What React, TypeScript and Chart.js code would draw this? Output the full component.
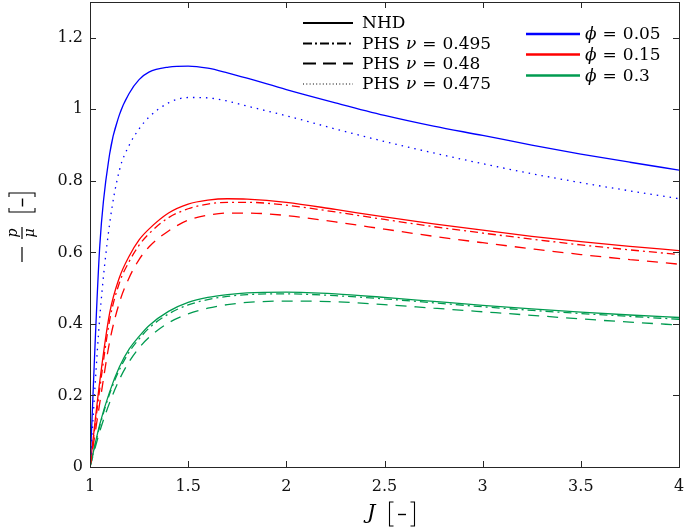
import React, { useEffect, useRef } from 'react';
import { Chart, registerables } from 'chart.js';
Chart.register(...registerables);

// Stretch J [-]
const J = [1, 1.05, 1.1, 1.15, 1.2, 1.25, 1.3, 1.4, 1.5, 1.6, 1.7, 1.8, 2, 2.25, 2.5, 2.75, 3, 3.25, 3.5, 3.75, 4];

// phi = 0.05
const nhdPhi005 = [0, 0.62, 0.875, 0.985, 1.045, 1.083, 1.104, 1.118, 1.121, 1.115, 1.102, 1.087, 1.055, 1.018, 0.983, 0.953, 0.927, 0.9, 0.875, 0.852, 0.83];
const phs0475Phi005 = [0, 0.42, 0.68, 0.83, 0.9, 0.945, 0.978, 1.018, 1.033, 1.032, 1.023, 1.009, 0.982, 0.945, 0.91, 0.878, 0.848, 0.82, 0.795, 0.772, 0.75];

// phi = 0.15
const nhdPhi015 = [0, 0.24, 0.43, 0.53, 0.59, 0.635, 0.665, 0.71, 0.735, 0.746, 0.75, 0.749, 0.74, 0.72, 0.699, 0.68, 0.662, 0.645, 0.63, 0.617, 0.605];
const phs0495Phi015 = [0, 0.22, 0.41, 0.515, 0.575, 0.62, 0.652, 0.697, 0.722, 0.735, 0.74, 0.74, 0.732, 0.713, 0.692, 0.672, 0.654, 0.637, 0.621, 0.607, 0.594];
const phs048Phi015 = [0, 0.18, 0.35, 0.46, 0.53, 0.58, 0.615, 0.66, 0.69, 0.704, 0.71, 0.71, 0.703, 0.685, 0.665, 0.645, 0.627, 0.61, 0.594, 0.58, 0.567];

// phi = 0.3
const nhdPhi03 = [0, 0.12, 0.21, 0.28, 0.33, 0.365, 0.395, 0.435, 0.46, 0.474, 0.482, 0.487, 0.489, 0.484, 0.474, 0.463, 0.452, 0.442, 0.433, 0.425, 0.418];
const phs0495Phi03 = [0, 0.115, 0.205, 0.272, 0.322, 0.358, 0.388, 0.428, 0.453, 0.468, 0.477, 0.482, 0.484, 0.479, 0.47, 0.459, 0.448, 0.438, 0.429, 0.421, 0.413];
const phs048Phi03 = [0, 0.1, 0.18, 0.245, 0.295, 0.333, 0.362, 0.403, 0.428, 0.444, 0.454, 0.46, 0.464, 0.462, 0.454, 0.444, 0.434, 0.424, 0.414, 0.405, 0.397];

const xTicks = [1, 1.5, 2, 2.5, 3, 3.5, 4];
const yTicks = [0, 0.2, 0.4, 0.6, 0.8, 1, 1.2];

const modelLabels = ['NHD', 'PHS', 'PHS', 'PHS'];
const nuLabels = ['', '0.495', '0.48', '0.475'];
const phiLabels = ['0.05', '0.15', '0.3'];

const BLUE = '#0000ff';
const RED = '#ff0000';
const GREEN = 'rgb(0,155,80)';
const AX = '#262626';
const SERIF = '"DejaVu Serif", serif';

const DASHDOT = [8, 4, 2, 4];
const DASHED = [11, 8];
const DOTTED = [1.5, 5];

function mk(label: string, ys: number[], color: string, dash: number[]) {
  return {
    label,
    data: J.map((x, i) => ({ x, y: ys[i] })),
    borderColor: color,
    backgroundColor: color,
    borderWidth: 1.3,
    borderDash: dash,
    pointRadius: 0,
    fill: false,
    cubicInterpolationMode: 'monotone' as const,
  };
}

const fmt = (v: any) => String(Number(Number(v).toFixed(2)));

const decorPlugin = {
  id: 'decor',
  afterDraw(chart: any) {
    const { ctx, chartArea: a, scales } = chart;
    ctx.save();
    ctx.strokeStyle = AX;
    ctx.lineWidth = 1;
    ctx.setLineDash([]);
    ctx.strokeRect(Math.round(a.left) + 0.5, Math.round(a.top) + 0.5, Math.round(a.right - a.left), Math.round(a.bottom - a.top));
    const line = (x1: number, y1: number, x2: number, y2: number) => {
      ctx.beginPath();
      ctx.moveTo(x1, y1);
      ctx.lineTo(x2, y2);
      ctx.stroke();
    };
    const TL = 6;
    for (const v of xTicks) {
      const px = Math.round(scales.x.getPixelForValue(v)) + 0.5;
      line(px, a.bottom, px, a.bottom - TL);
      line(px, a.top, px, a.top + TL);
    }
    for (const v of yTicks) {
      const py = Math.round(scales.y.getPixelForValue(v)) + 0.5;
      line(a.left, py, a.left + TL, py);
      line(a.right, py, a.right - TL, py);
    }

    // legend 1 (line styles)
    const lg1Styles = [[], [9, 3, 2, 3], [13, 7], [1, 2.3]];
    const lg1Widths = [2, 2, 2, 1.2];
    const rows1 = [23, 43.5, 63.5, 84];
    ctx.fillStyle = '#000';
    ctx.textBaseline = 'middle';
    ctx.textAlign = 'left';
    for (let i = 0; i < 4; i++) {
      ctx.strokeStyle = '#000';
      ctx.lineWidth = lg1Widths[i];
      ctx.setLineDash(lg1Styles[i]);
      line(303, rows1[i], 353, rows1[i]);
      ctx.setLineDash([]);
      let x = 362;
      const y = rows1[i] + 1;
      ctx.font = `17px ${SERIF}`;
      const m = modelLabels[i];
      ctx.fillText(m, x, y);
      x += ctx.measureText(m).width;
      if (nuLabels[i]) {
        x += 6;
        ctx.font = `italic 17px ${SERIF}`;
        ctx.fillText('ν', x, y);
        x += ctx.measureText('ν').width + 6;
        ctx.font = `17px ${SERIF}`;
        ctx.fillText('=', x, y);
        x += ctx.measureText('=').width + 6;
        ctx.fillText(nuLabels[i], x, y);
      }
    }
    // legend 2 (colours)
    const cols = [BLUE, RED, GREEN];
    const rows2 = [34, 54.5, 75.5];
    for (let i = 0; i < 3; i++) {
      ctx.strokeStyle = cols[i];
      ctx.lineWidth = 2.3;
      ctx.setLineDash([]);
      line(526, rows2[i], 580, rows2[i]);
      let x = 585;
      const y = rows2[i] + 1;
      ctx.font = `italic 17px ${SERIF}`;
      ctx.fillStyle = '#000';
      ctx.fillText('ϕ', x, y);
      x += ctx.measureText('ϕ').width + 6;
      ctx.font = `17px ${SERIF}`;
      ctx.fillText('=', x, y);
      x += ctx.measureText('=').width + 6;
      ctx.fillText(phiLabels[i], x, y);
    }

    const bracket = (u0: number, u1: number, h: number) => {
      ctx.strokeStyle = '#000';
      ctx.lineWidth = 1.1;
      ctx.setLineDash([]);
      ctx.beginPath();
      ctx.moveTo(u0 + 4, -h); ctx.lineTo(u0, -h); ctx.lineTo(u0, h); ctx.lineTo(u0 + 4, h);
      ctx.moveTo(u1 - 4, -h); ctx.lineTo(u1, -h); ctx.lineTo(u1, h); ctx.lineTo(u1 - 4, h);
      ctx.stroke();
      const mid = (u0 + u1) / 2;
      ctx.lineWidth = 1.4;
      line(mid - 4, 0.5, mid + 4, 0.5);
    };

    // x title: J [-]
    ctx.save();
    ctx.fillStyle = '#000';
    ctx.font = `italic 21px ${SERIF}`;
    ctx.textBaseline = 'alphabetic';
    ctx.textAlign = 'left';
    ctx.fillText('J', 367, 519);
    ctx.translate(0, 514);
    bracket(389.5, 414.5, 12);
    ctx.restore();

    // y title: - p/mu [-]
    ctx.save();
    ctx.translate(22, 228);
    ctx.rotate(-Math.PI / 2);
    ctx.strokeStyle = '#000';
    ctx.lineWidth = 1.2;
    line(-34, 0, -19, 0);
    line(-11, 0, 1, 0);
    ctx.fillStyle = '#000';
    ctx.font = `italic 14px ${SERIF}`;
    ctx.textAlign = 'center';
    ctx.textBaseline = 'alphabetic';
    ctx.fillText('p', -5, -5.5);
    ctx.fillText('μ', -5, 12);
    bracket(16, 35, 13);
    ctx.restore();

    ctx.restore();
  },
};

export default function App() {
  const ref = useRef<HTMLCanvasElement | null>(null);
  useEffect(() => {
    if (!ref.current) return;
    const chart = new Chart(ref.current, {
      type: 'line',
      data: {
        datasets: [
          mk('NHD ϕ=0.05', nhdPhi005, BLUE, []),
          mk('PHS ν=0.475 ϕ=0.05', phs0475Phi005, BLUE, DOTTED),
          mk('NHD ϕ=0.15', nhdPhi015, RED, []),
          mk('PHS ν=0.495 ϕ=0.15', phs0495Phi015, RED, DASHDOT),
          mk('PHS ν=0.48 ϕ=0.15', phs048Phi015, RED, DASHED),
          mk('NHD ϕ=0.3', nhdPhi03, GREEN, []),
          mk('PHS ν=0.495 ϕ=0.3', phs0495Phi03, GREEN, DASHDOT),
          mk('PHS ν=0.48 ϕ=0.3', phs048Phi03, GREEN, DASHED),
        ],
      },
      options: {
        animation: false,
        responsive: true,
        maintainAspectRatio: false,
        devicePixelRatio: 1,
        layout: { padding: { top: 2, right: 6, left: 0, bottom: 0 } },
        plugins: { legend: { display: false }, tooltip: { enabled: false } },
        scales: {
          x: {
            type: 'linear',
            min: 1,
            max: 4,
            ticks: { stepSize: 0.5, color: '#111', font: { family: SERIF, size: 16 }, padding: 10, maxRotation: 0, callback: fmt },
            grid: { display: false, drawTicks: false },
            border: { display: false },
            afterFit: (s: any) => { s.height = 60; s.paddingLeft = 0; s.paddingRight = 0; },
          },
          y: {
            type: 'linear',
            min: 0,
            max: 1.3,
            ticks: { stepSize: 0.2, color: '#111', font: { family: SERIF, size: 16 }, padding: 7, callback: fmt },
            grid: { display: false, drawTicks: false },
            border: { display: false },
            afterBuildTicks: (s: any) => { s.ticks = s.ticks.filter((t: any) => t.value <= 1.2001); },
            afterFit: (s: any) => { s.width = 90; s.paddingTop = 0; s.paddingBottom = 0; },
          },
        },
      },
      plugins: [decorPlugin],
    } as any);
    return () => chart.destroy();
  }, []);
  return (
    <div style={{ position: 'fixed', left: 0, top: 0, width: 685, height: 527, background: '#fff' }}>
      <canvas ref={ref} />
    </div>
  );
}
